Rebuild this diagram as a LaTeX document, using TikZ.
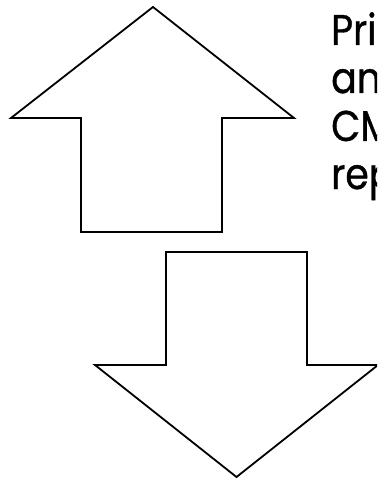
\documentclass[tikz,border=0pt]{standalone}
\usepackage{fontspec}
\setmainfont{Poppins}[FakeStretch=0.88,FakeBold=0.8]
\newcommand{\capfont}{\fontsize{43pt}{50pt}\selectfont}
\begin{document}
\begin{tikzpicture}[x=1pt,y=-1pt,
  blockarrow/.style={draw=black,line width=1.8pt,fill=white,line join=miter},
  caption/.style={anchor=base west,inner sep=0pt}]
  \useasboundingbox (0,0) rectangle (377,481);
  \clip (0,0) rectangle (377,481);
  % upward block arrow
  \draw[blockarrow] (153,7) -- (294,118) -- (222,118) -- (222,232)
        -- (81,232) -- (81,118) -- (11,118) -- cycle;
  % downward block arrow
  \draw[blockarrow] (166,252) -- (307,252) -- (307,365) -- (378,365)
        -- (236.5,477) -- (95,365) -- (166,365) -- cycle;
  % text lines running off the right edge
  \node[caption] (l1) at (331,45) {\capfont Pri};
  \node[caption] (l2) at (331,93) {\capfont an};
  \node[caption] (l3) at (331,141) {\capfont CM};
  \node[caption] (l4) at (331,189) {\capfont rep};
\end{tikzpicture}
\end{document}
